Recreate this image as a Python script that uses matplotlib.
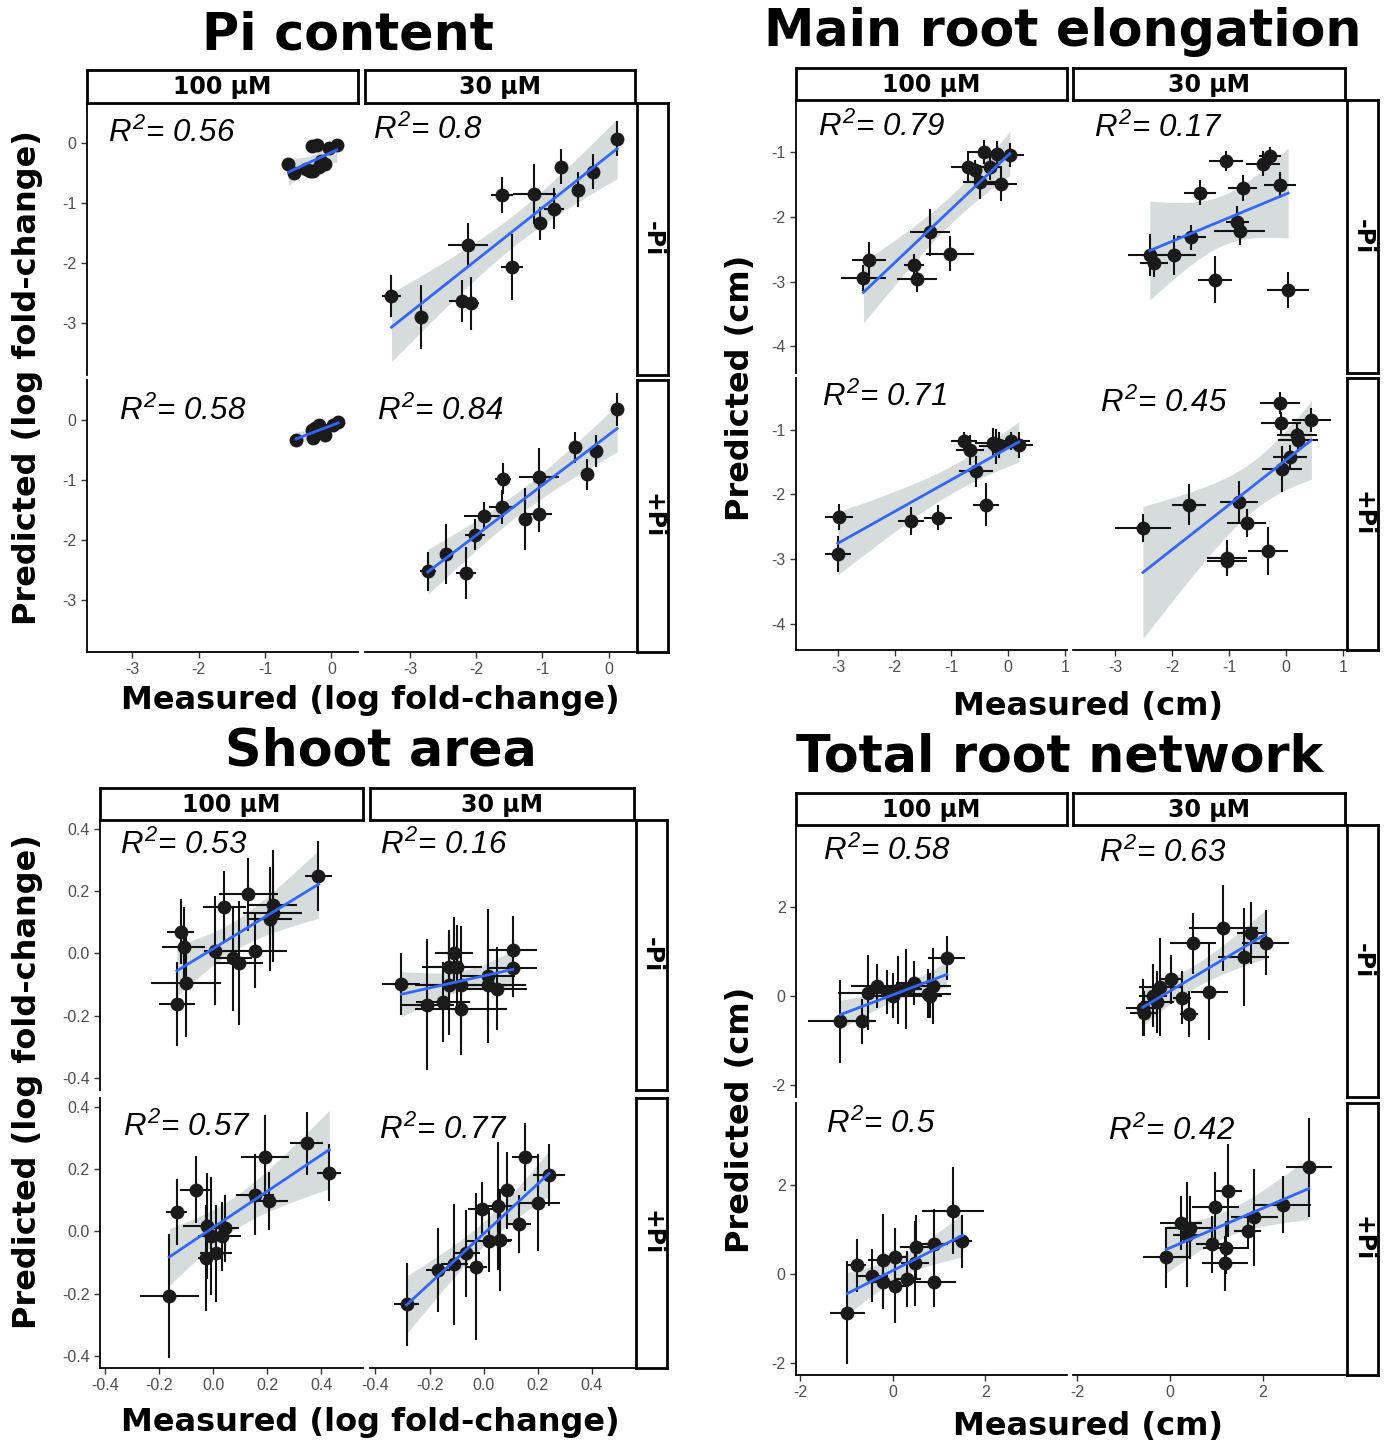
import numpy as np
import matplotlib.pyplot as plt

# points per facet: (measured, predicted, x error, y error)
# --- Pi content (log fold-change)
pi_100_minus = [(-0.65, -0.36, 0.05, 0.08), (-0.56, -0.50, 0.04, 0.10), (-0.39, -0.44, 0.05, 0.10),
                (-0.33, -0.47, 0.04, 0.08), (-0.27, -0.47, 0.05, 0.10), (-0.30, -0.06, 0.04, 0.08),
                (-0.22, -0.03, 0.05, 0.08), (-0.16, -0.30, 0.04, 0.10), (-0.19, -0.41, 0.05, 0.08),
                (-0.10, -0.36, 0.04, 0.10), (-0.04, -0.08, 0.05, 0.08), (0.08, -0.03, 0.04, 0.08)]
pi_30_minus = [(-3.28, -2.54, 0.15, 0.35), (-2.84, -2.89, 0.02, 0.53), (-2.21, -2.63, 0.20, 0.35),
               (-2.08, -2.67, 0.12, 0.44), (-2.12, -1.70, 0.30, 0.36), (-1.61, -0.87, 0.17, 0.30),
               (-1.46, -2.06, 0.17, 0.55), (-1.12, -0.85, 0.33, 0.50), (-1.03, -1.34, 0.10, 0.28),
               (-0.82, -1.10, 0.15, 0.34), (-0.72, -0.40, 0.05, 0.29), (-0.46, -0.78, 0.05, 0.29),
               (-0.23, -0.48, 0.05, 0.29), (0.13, 0.07, 0.03, 0.29)]
pi_100_plus = [(-0.53, -0.33, 0.05, 0.08), (-0.27, -0.30, 0.05, 0.10), (-0.19, -0.08, 0.04, 0.10),
               (-0.24, -0.14, 0.05, 0.08), (-0.10, -0.25, 0.04, 0.10), (0.02, -0.08, 0.05, 0.08),
               (0.10, -0.03, 0.04, 0.08), (-0.30, -0.17, 0.05, 0.08), (-0.13, -0.17, 0.04, 0.10)]
pi_30_plus = [(-2.73, -2.52, 0.12, 0.33), (-2.46, -2.23, 0.02, 0.50), (-2.15, -2.55, 0.15, 0.43),
              (-2.02, -1.91, 0.15, 0.26), (-1.88, -1.60, 0.30, 0.24), (-1.60, -0.98, 0.12, 0.26),
              (-1.61, -1.45, 0.20, 0.29), (-1.26, -1.65, 0.03, 0.51), (-1.05, -0.96, 0.30, 0.49),
              (-1.05, -1.57, 0.20, 0.30), (-0.51, -0.46, 0.03, 0.26), (-0.32, -0.91, 0.03, 0.26),
              (-0.19, -0.52, 0.03, 0.27), (0.13, 0.17, 0.03, 0.27)]

# --- Main root elongation (cm)
mr_100_minus = [(-2.55, -2.94, 0.40, 0.20), (-2.45, -2.67, 0.30, 0.28), (-1.66, -2.75, 0.17, 0.18),
                (-1.61, -2.96, 0.35, 0.20), (-1.38, -2.24, 0.35, 0.36), (-1.02, -2.57, 0.42, 0.27),
                (-0.70, -1.23, 0.30, 0.22), (-0.58, -1.28, 0.10, 0.15), (-0.49, -1.46, 0.30, 0.26),
                (-0.42, -1.00, 0.30, 0.19), (-0.31, -1.23, 0.20, 0.20), (-0.20, -1.03, 0.05, 0.20),
                (-0.13, -1.49, 0.28, 0.27), (0.03, -1.05, 0.25, 0.18)]
mr_30_minus = [(-2.39, -2.59, 0.38, 0.32), (-2.32, -2.71, 0.25, 0.22), (-1.96, -2.59, 0.38, 0.31),
               (-1.66, -2.32, 0.25, 0.20), (-1.51, -1.63, 0.28, 0.19), (-1.25, -2.97, 0.30, 0.36),
               (-1.05, -1.14, 0.30, 0.15), (-0.85, -2.08, 0.20, 0.24), (-0.81, -2.22, 0.45, 0.22),
               (-0.76, -1.55, 0.25, 0.20), (-0.40, -1.18, 0.30, 0.19), (-0.28, -1.07, 0.20, 0.15),
               (-0.10, -1.51, 0.28, 0.20), (0.04, -3.13, 0.37, 0.28)]
mr_100_plus = [(-2.98, -2.35, 0.25, 0.20), (-3.00, -2.92, 0.23, 0.28), (-1.71, -2.41, 0.23, 0.22),
               (-1.24, -2.36, 0.25, 0.20), (-0.77, -1.18, 0.23, 0.14), (-0.67, -1.31, 0.25, 0.23),
               (-0.56, -1.64, 0.30, 0.24), (-0.39, -2.16, 0.23, 0.33), (-0.26, -1.20, 0.33, 0.22),
               (-0.21, -1.26, 0.30, 0.27), (-0.16, -1.24, 0.10, 0.20), (0.05, -1.17, 0.33, 0.14),
               (0.19, -1.24, 0.25, 0.20)]
mr_30_plus = [(-2.51, -2.52, 0.50, 0.22), (-1.70, -2.16, 0.30, 0.32), (-1.04, -2.99, 0.35, 0.28),
              (-1.04, -3.03, 0.35, 0.20), (-0.82, -2.12, 0.33, 0.32), (-0.69, -2.44, 0.35, 0.22),
              (-0.31, -2.88, 0.35, 0.37), (-0.10, -0.58, 0.35, 0.17), (-0.08, -0.90, 0.35, 0.18),
              (-0.06, -1.61, 0.35, 0.35), (0.07, -1.42, 0.30, 0.19), (0.19, -1.08, 0.35, 0.19),
              (0.22, -1.16, 0.35, 0.19), (0.45, -0.85, 0.35, 0.18)]

# --- Shoot area (log fold-change)
sa_100_minus = [(-0.135, -0.162, 0.066, 0.136), (-0.12, 0.07, 0.05, 0.104), (-0.11, 0.022, 0.08, 0.127),
                (-0.10, -0.095, 0.13, 0.175), (0.007, 0.009, 0.04, 0.175), (0.04, 0.151, 0.08, 0.116),
                (0.074, -0.016, 0.07, 0.17), (0.096, -0.032, 0.09, 0.20), (0.13, 0.19, 0.11, 0.117),
                (0.155, 0.009, 0.12, 0.121), (0.21, 0.11, 0.08, 0.167), (0.22, 0.156, 0.09, 0.178),
                (0.22, 0.13, 0.11, 0.159), (0.39, 0.25, 0.05, 0.112)]
sa_30_minus = [(-0.304, -0.097, 0.07, 0.10), (-0.21, -0.165, 0.10, 0.21), (-0.15, -0.156, 0.10, 0.13),
               (-0.128, -0.102, 0.10, 0.16), (-0.109, 0.002, 0.07, 0.115), (-0.128, -0.043, 0.10, 0.12),
               (-0.098, -0.043, 0.09, 0.135), (-0.084, -0.102, 0.17, 0.19), (-0.084, -0.178, 0.17, 0.15),
               (0.015, -0.072, 0.10, 0.215), (0.015, -0.102, 0.14, 0.13), (0.049, -0.113, 0.11, 0.135),
               (0.107, -0.046, 0.09, 0.094), (0.107, 0.011, 0.09, 0.11)]
sa_100_plus = [(-0.163, -0.207, 0.11, 0.20), (-0.136, 0.063, 0.04, 0.106), (-0.064, 0.135, 0.06, 0.108),
               (-0.027, -0.086, 0.03, 0.17), (-0.022, 0.018, 0.09, 0.17), (-0.007, -0.016, 0.05, 0.19),
               (0.010, -0.070, 0.06, 0.156), (0.033, -0.016, 0.07, 0.11), (0.044, 0.011, 0.05, 0.108),
               (0.155, 0.118, 0.07, 0.13), (0.192, 0.239, 0.09, 0.135), (0.206, 0.099, 0.07, 0.093),
               (0.346, 0.284, 0.06, 0.102), (0.43, 0.189, 0.045, 0.092)]
sa_30_plus = [(-0.285, -0.235, 0.045, 0.134), (-0.168, -0.124, 0.045, 0.134), (-0.109, -0.106, 0.05, 0.196),
              (-0.065, -0.07, 0.05, 0.14), (-0.028, -0.113, 0.04, 0.237), (-0.007, 0.073, 0.05, 0.086),
              (0.019, -0.032, 0.08, 0.10), (0.051, 0.081, 0.06, 0.206), (0.06, -0.027, 0.045, 0.165),
              (0.085, 0.133, 0.03, 0.124), (0.129, 0.024, 0.045, 0.094), (0.151, 0.239, 0.045, 0.109),
              (0.20, 0.092, 0.08, 0.156), (0.241, 0.183, 0.06, 0.10)]

# --- Total root network (cm)
tr_100_minus = [(-1.13, -0.56, 0.70, 0.93), (-0.66, -0.56, 0.30, 0.50), (-0.54, 0.08, 0.65, 0.84),
                (-0.34, 0.23, 0.55, 0.50), (-0.13, 0.10, 0.50, 0.50), (0.0, 0.02, 0.60, 0.50),
                (0.11, 0.14, 0.35, 0.77), (0.28, 0.17, 0.35, 0.90), (0.47, 0.30, 0.40, 0.50),
                (0.77, 0.06, 0.50, 0.55), (0.81, 0.02, 0.25, 0.50), (0.87, 0.23, 0.40, 0.85),
                (1.17, 0.86, 0.40, 0.50)]
tr_30_minus = [(-0.59, -0.26, 0.35, 0.64), (-0.57, -0.38, 0.30, 0.50), (-0.36, 0.02, 0.30, 0.70),
               (-0.27, -0.13, 0.35, 0.70), (-0.21, 0.21, 0.45, 1.10), (0.03, 0.38, 0.25, 0.55),
               (0.26, -0.03, 0.20, 0.60), (0.41, -0.39, 0.20, 0.52), (0.50, 1.19, 0.50, 0.68),
               (0.85, 0.10, 0.40, 1.07), (1.15, 1.54, 0.75, 0.96), (1.59, 0.89, 0.55, 1.10),
               (1.75, 1.43, 0.30, 0.70), (2.06, 1.20, 0.50, 0.73)]
tr_100_plus = [(-0.98, -0.86, 0.38, 1.16), (-0.77, 0.20, 0.20, 0.60), (-0.44, -0.03, 0.35, 0.60),
               (-0.21, 0.32, 0.33, 1.03), (-0.21, -0.18, 0.30, 0.60), (0.06, 0.38, 0.25, 0.66),
               (0.06, -0.26, 0.30, 0.83), (0.32, -0.11, 0.30, 0.63), (0.49, 0.25, 0.30, 0.95),
               (0.50, 0.61, 0.35, 0.72), (0.90, -0.18, 0.48, 0.56), (0.90, 0.68, 0.30, 0.79),
               (1.30, 1.43, 0.67, 0.98), (1.51, 0.74, 0.20, 0.60)]
tr_30_plus = [(-0.08, 0.38, 0.50, 0.68), (0.24, 1.15, 0.45, 0.60), (0.37, 0.89, 0.30, 1.18),
              (0.43, 1.05, 0.50, 0.71), (0.91, 0.68, 0.35, 0.64), (0.98, 1.51, 0.50, 0.78),
              (1.18, 0.25, 0.50, 0.62), (1.21, 0.60, 0.50, 0.60), (1.26, 1.88, 0.30, 1.05),
              (1.67, 0.98, 0.30, 0.41), (1.82, 1.28, 0.50, 1.09), (2.44, 1.56, 0.60, 0.64),
              (2.99, 2.41, 0.50, 1.11)]

col_labels = ['100 µM', '30 µM']
row_labels = ['-Pi', '+Pi']

pi_r2 = [['0.56', '0.8'], ['0.58', '0.84']]
mr_r2 = [['0.79', '0.17'], ['0.71', '0.45']]
sa_r2 = [['0.53', '0.16'], ['0.57', '0.77']]
tr_r2 = [['0.58', '0.63'], ['0.5', '0.42']]

W, H = 1386, 1447
plt.rcParams['mathtext.fontset'] = 'custom'
plt.rcParams['mathtext.it'] = 'Liberation Sans:italic'
plt.rcParams['mathtext.rm'] = 'Liberation Sans:italic'
fig = plt.figure(figsize=(W / 100, H / 100), dpi=100)


def rect(x0, x1, y0, y1):
    return [x0 / W, 1 - y1 / H, (x1 - x0) / W, (y1 - y0) / H]


def fit_band(x, y, n=100, t=2.17):
    b, a = np.polyfit(x, y, 1)
    xs = np.linspace(x.min(), x.max(), n)
    yh = a + b * xs
    s = np.sqrt(np.sum((y - (a + b * x)) ** 2) / (len(x) - 2))
    se = s * np.sqrt(1 / len(x) + (xs - x.mean()) ** 2 / np.sum((x - x.mean()) ** 2))
    return xs, yh, yh - t * se, yh + t * se


panels = [
    dict(title='Pi content', tpos=(348, 36), xlabel='Measured (log fold-change)', xlpos=(370, 700),
         ylabel='Predicted (log fold-change)', ylpos=(28, 378),
         cols=[(87, 358), (365, 635)], rows=[(103, 375), (380, 652)], strip_y=(70, 103), rstrip_x=(637, 668),
         xlim=(-3.68, 0.40), ylim=(-3.86, 0.66), xticks=[-3, -2, -1, 0], yticks=[0, -1, -2, -3], fmt='{:g}',
         data=[[pi_100_minus, pi_30_minus], [pi_100_plus, pi_30_plus]], r2=pi_r2,
         r2pos=[[(0.077, 0.89), (0.03, 0.90)], [(0.118, 0.886), (0.044, 0.886)]]),
    dict(title='Main root elongation', tpos=(1063, 32), xlabel='Measured (cm)', xlpos=(1088, 706),
         ylabel='Predicted (cm)', ylpos=(740, 388),
         cols=[(796, 1067), (1073, 1345)], rows=[(100, 373), (378, 650)], strip_y=(68, 100), rstrip_x=(1347, 1378),
         xlim=(-3.74, 1.04), ylim=(-4.41, -0.2), xticks=[-3, -2, -1, 0, 1], yticks=[-1, -2, -3, -4], fmt='{:g}',
         data=[[mr_100_minus, mr_30_minus], [mr_100_plus, mr_30_plus]], r2=mr_r2,
         r2pos=[[(0.081, 0.90), (0.077, 0.897)], [(0.096, 0.93), (0.10, 0.905)]]),
    dict(title='Shoot area', tpos=(381, 752), xlabel='Measured (log fold-change)', xlpos=(370, 1422),
         ylabel='Predicted (log fold-change)', ylpos=(28, 1082),
         cols=[(100, 363), (370, 634)], rows=[(820, 1090), (1098, 1368)], strip_y=(788, 820), rstrip_x=(636, 667),
         xlim=(-0.42, 0.555), ylim=(-0.44, 0.43), xticks=[-0.4, -0.2, 0.0, 0.2, 0.4],
         yticks=[0.4, 0.2, 0.0, -0.2, -0.4], fmt='{:.1f}',
         data=[[sa_100_minus, sa_30_minus], [sa_100_plus, sa_30_plus]], r2=sa_r2,
         r2pos=[[(0.076, 0.907), (0.038, 0.907)], [(0.087, 0.893), (0.034, 0.881)]]),
    dict(title='Total root network', tpos=(1060, 758), xlabel='Measured (cm)', xlpos=(1088, 1427),
         ylabel='Predicted (cm)', ylpos=(740, 1120),
         cols=[(796, 1067), (1073, 1345)], rows=[(825, 1097), (1103, 1375)], strip_y=(793, 825), rstrip_x=(1347, 1378),
         xlim=(-2.09, 3.77), ylim=(-2.26, 3.85), xticks=[-2, 0, 2], yticks=[2, 0, -2], fmt='{:g}',
         data=[[tr_100_minus, tr_30_minus], [tr_100_plus, tr_30_plus]], r2=tr_r2,
         r2pos=[[(0.10, 0.904), (0.096, 0.897)], [(0.11, 0.923), (0.13, 0.897)]]),
]

for p in panels:
    fig.text(p['tpos'][0] / W, 1 - p['tpos'][1] / H, p['title'], fontsize=36.5, fontweight='bold',
             ha='center', va='center', family='DejaVu Sans')
    fig.text(p['xlpos'][0] / W, 1 - p['xlpos'][1] / H, p['xlabel'], fontsize=23, fontweight='bold',
             ha='center', va='center', family='DejaVu Sans')
    fig.text(p['ylpos'][0] / W, 1 - p['ylpos'][1] / H, p['ylabel'], fontsize=23, fontweight='bold',
             ha='center', va='center', rotation=90, family='DejaVu Sans')

    # top strips
    for j, (x0, x1) in enumerate(p['cols']):
        sa = fig.add_axes(rect(x0, x1, *p['strip_y']))
        sa.set_xticks([]); sa.set_yticks([])
        for s in sa.spines.values():
            s.set_linewidth(2)
        sa.text(0.5, 0.47, col_labels[j], transform=sa.transAxes, ha='center', va='center',
                fontsize=17, fontweight='bold')
    # right strips
    for i, (y0, y1) in enumerate(p['rows']):
        sa = fig.add_axes(rect(*p['rstrip_x'], y0, y1))
        sa.set_xticks([]); sa.set_yticks([])
        for s in sa.spines.values():
            s.set_linewidth(2)
        sa.text(0.5, 0.5, row_labels[i], transform=sa.transAxes, ha='center', va='center',
                fontsize=17, fontweight='bold', rotation=270)

    for i, (y0, y1) in enumerate(p['rows']):
        for j, (x0, x1) in enumerate(p['cols']):
            ax = fig.add_axes(rect(x0, x1, y0, y1))
            pts = np.array(p['data'][i][j])
            x, y, xe, ye = pts.T
            xs, yh, lo, hi = fit_band(x, y)
            ax.fill_between(xs, lo, hi, color='#d5dcdb', lw=0, zorder=1)
            ax.errorbar(x, y, xerr=xe, yerr=ye, fmt='none', ecolor='#111111', elinewidth=1.5, zorder=2)
            ax.plot(x, y, 'o', color='#1a1a1a', ms=10, mec='none', zorder=3)
            ax.plot(xs, yh, color='#3366ff', lw=2, zorder=4)
            ax.text(p['r2pos'][i][j][0], p['r2pos'][i][j][1], r'$R^{2}$= ' + p['r2'][i][j],
                    transform=ax.transAxes, ha='left', va='center', fontsize=22.5,
                    family='Liberation Sans', fontstyle='italic')
            ax.set_xlim(p['xlim'])
            ax.set_ylim(p['ylim'])
            ax.set_xticks(p['xticks'])
            ax.set_yticks(p['yticks'])
            ax.set_xticklabels([p['fmt'].format(v) for v in p['xticks']])
            ax.set_yticklabels([p['fmt'].format(v) for v in p['yticks']])
            ax.spines['top'].set_visible(False)
            ax.spines['right'].set_visible(False)
            ax.spines['left'].set_visible(j == 0)
            ax.spines['bottom'].set_visible(i == 1)
            ax.spines['left'].set_linewidth(1.3)
            ax.spines['bottom'].set_linewidth(1.3)
            ax.tick_params(length=4, width=1, color='#333333', labelcolor='#4d4d4d', labelsize=11.5,
                           left=(j == 0), labelleft=(j == 0), bottom=(i == 1), labelbottom=(i == 1))
            for lab in ax.get_xticklabels() + ax.get_yticklabels():
                lab.set_family('Liberation Sans')
            ax.patch.set_alpha(0)

fig.savefig('out.png', dpi=100)
